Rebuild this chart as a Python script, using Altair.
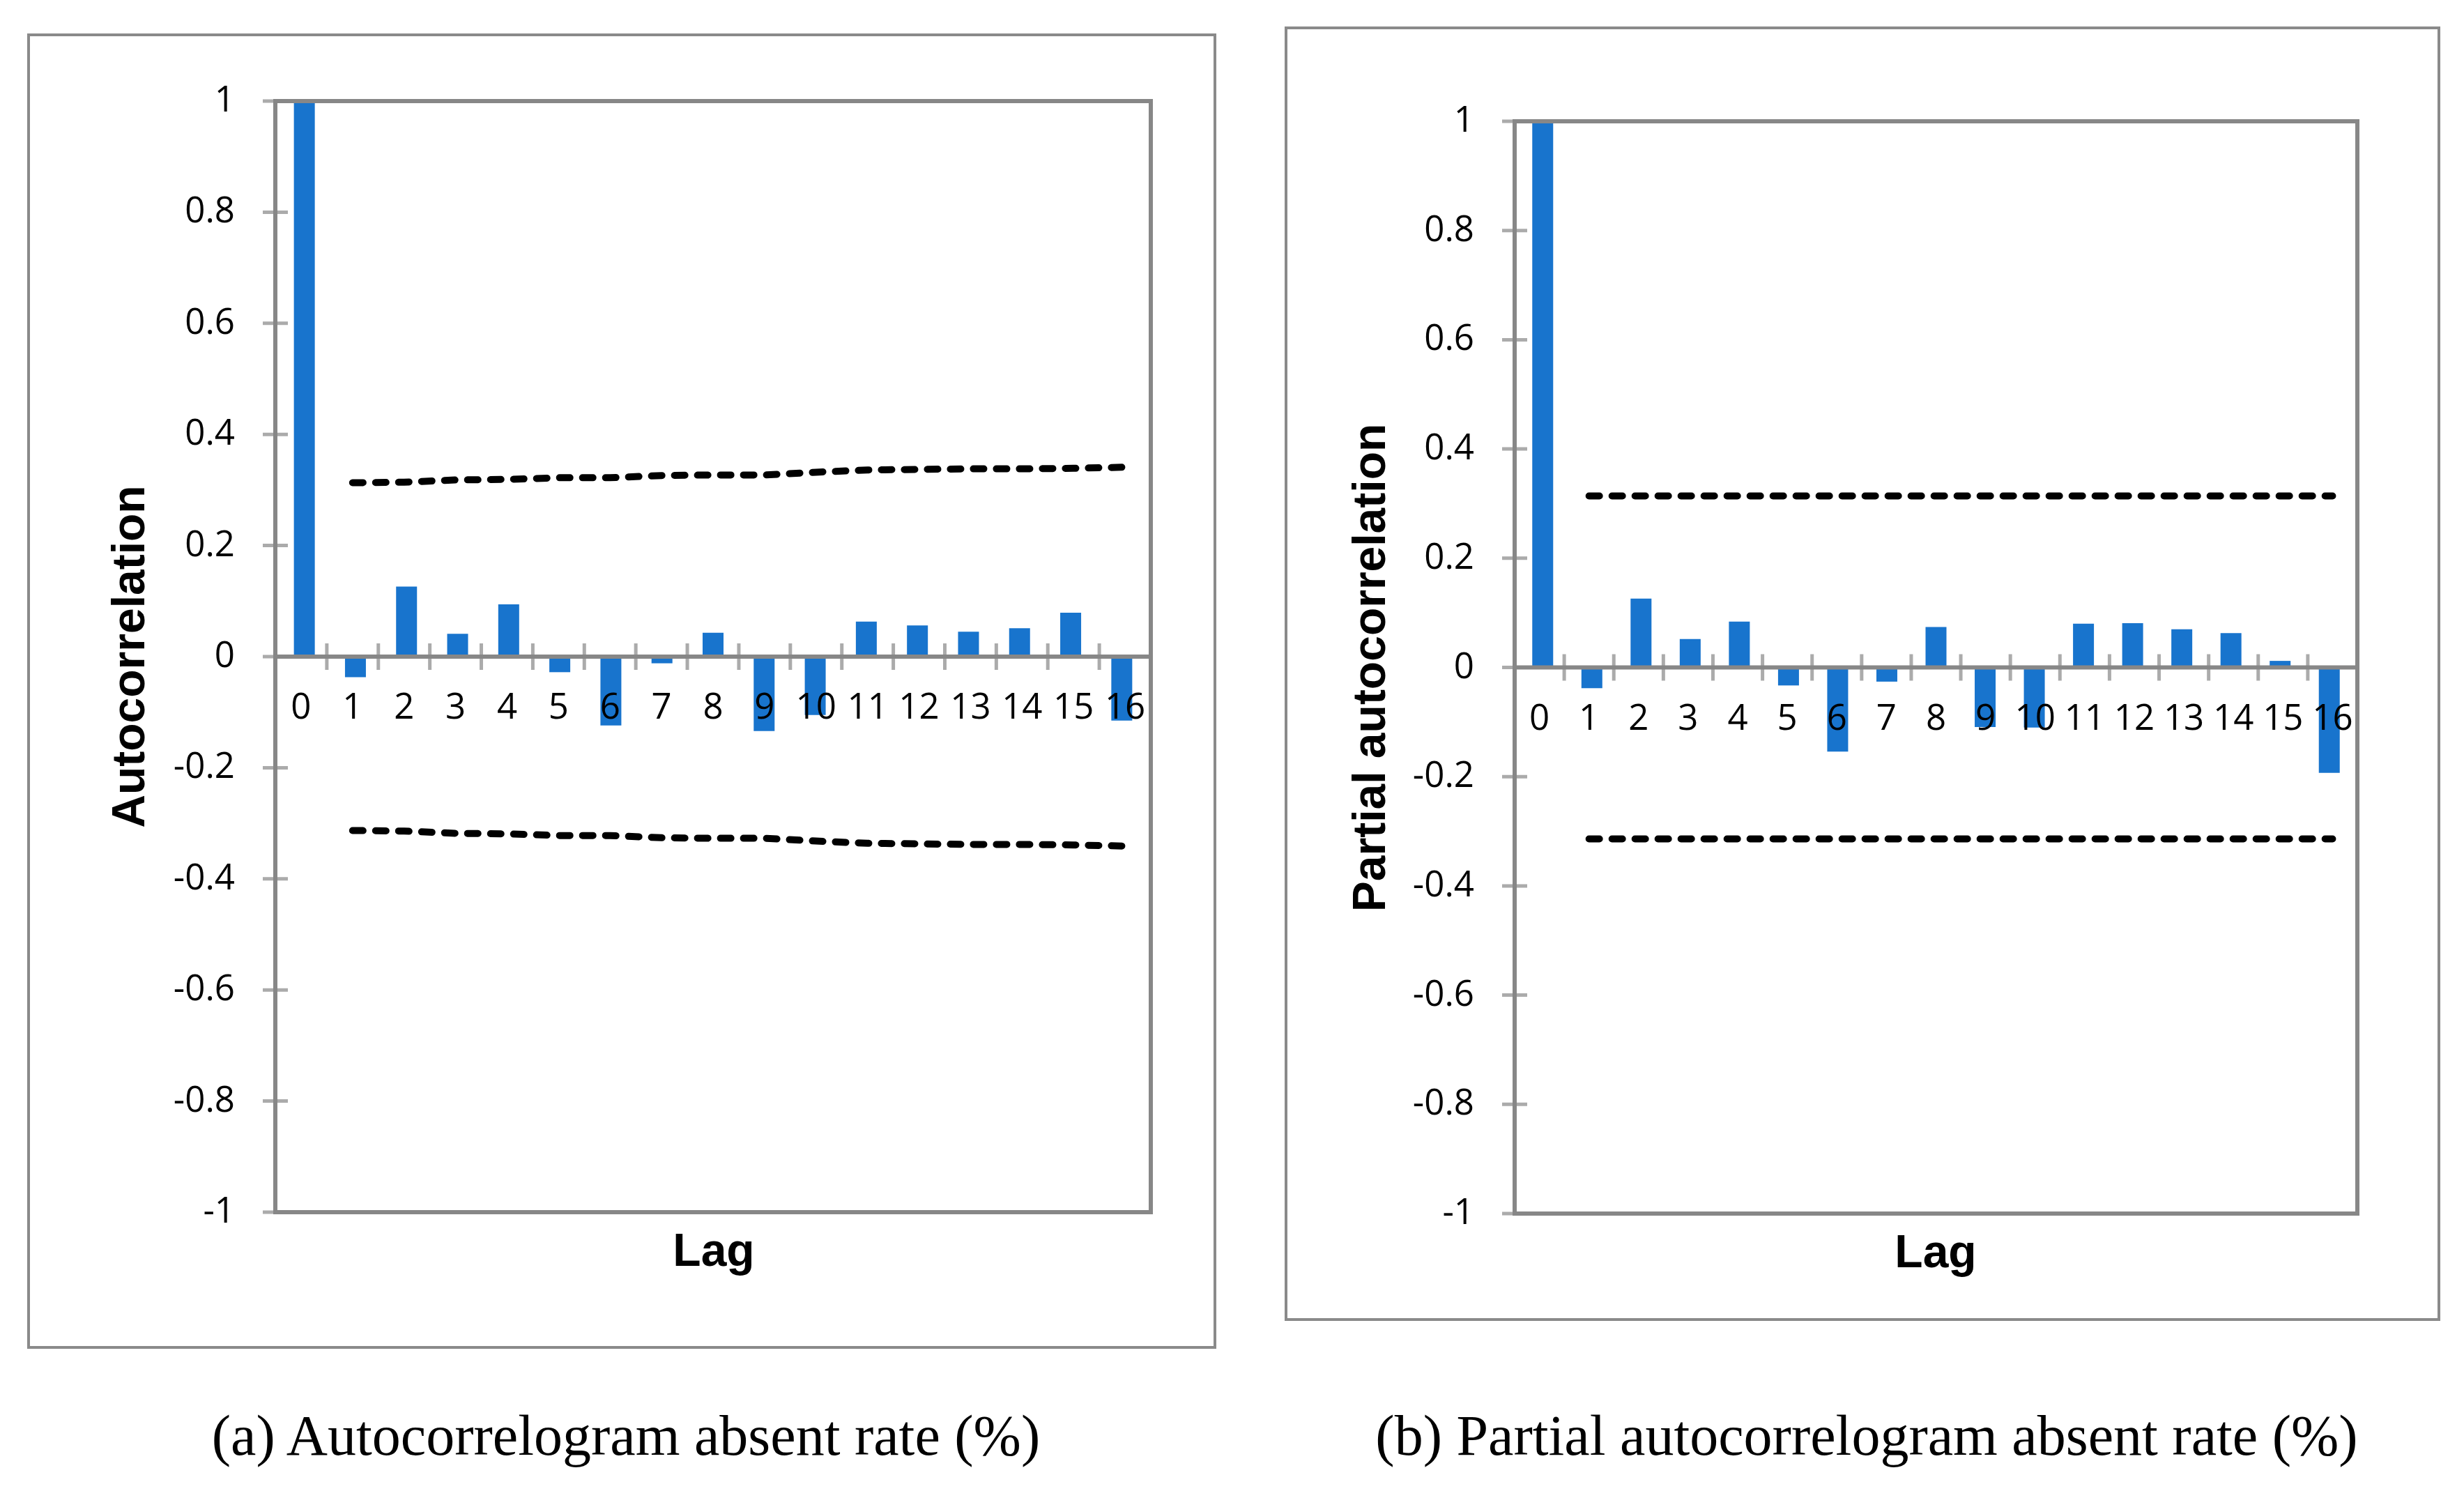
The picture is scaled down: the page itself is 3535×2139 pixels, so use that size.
import altair as alt
import pandas as pd

# ---------------- data ----------------
lags = [0, 1, 2, 3, 4, 5, 6, 7, 8, 9, 10, 11, 12, 13, 14, 15, 16]
acf = [1.0, -0.037, 0.126, 0.041, 0.094, -0.028, -0.124, -0.012, 0.043,
       -0.134, -0.105, 0.063, 0.056, 0.045, 0.051, 0.079, -0.115]
pacf = [1.0, -0.038, 0.126, 0.052, 0.084, -0.033, -0.154, -0.026, 0.074,
        -0.109, -0.110, 0.080, 0.081, 0.070, 0.063, 0.012, -0.193]

band_lags = [1, 2, 3, 4, 5, 6, 7, 8, 9, 10, 11, 12, 13, 14, 15, 16]
acf_upper = [0.313, 0.314, 0.318, 0.319, 0.322, 0.322, 0.326, 0.327,
             0.327, 0.332, 0.336, 0.337, 0.338, 0.338, 0.339, 0.341]
acf_lower = [-0.313, -0.314, -0.318, -0.319, -0.322, -0.322, -0.326, -0.327,
             -0.327, -0.332, -0.336, -0.337, -0.338, -0.338, -0.339, -0.341]
pacf_upper = [0.314, 0.314, 0.314, 0.314, 0.314, 0.314, 0.314, 0.314,
              0.314, 0.314, 0.314, 0.314, 0.314, 0.314, 0.314, 0.314]
pacf_lower = [-0.314, -0.314, -0.314, -0.314, -0.314, -0.314, -0.314, -0.314,
              -0.314, -0.314, -0.314, -0.314, -0.314, -0.314, -0.314, -0.314]

y_ticks = [1, 0.8, 0.6, 0.4, 0.2, 0, -0.2, -0.4, -0.6, -0.8, -1]
y_tick_labels = ["1", "0.8", "0.6", "0.4", "0.2", "0", "-0.2", "-0.4", "-0.6", "-0.8", "-1"]
x_tick_labels = ["0", "1", "2", "3", "4", "5", "6", "7", "8", "9", "10",
                 "11", "12", "13", "14", "15", "16"]
x_boundaries = [0.5, 1.5, 2.5, 3.5, 4.5, 5.5, 6.5, 7.5, 8.5, 9.5, 10.5,
                11.5, 12.5, 13.5, 14.5, 15.5]

BLUE = "#1874CD"
GREY = "#878787"
TICK_FONT = "Open Sans"
TITLE_FONT = "Liberation Sans"
CAP_FONT = "Liberation Serif"


def panel(vals, upper, lower, xr, yr, ytitle, ytitle_xy, lag_xy, caption, cap_xy, frame):
    xs = alt.Scale(domain=[-0.5, 16.5], range=xr, nice=False, zero=False)
    ys = alt.Scale(domain=[-1, 1], range=yr, nice=False, zero=False)
    one = pd.DataFrame({"a": [0]})
    bars_df = pd.DataFrame({"lag": lags, "v": vals, "lab": x_tick_labels})
    band_df = pd.DataFrame({"lag": band_lags, "up": upper, "lo": lower})
    yt_df = pd.DataFrame({"t": y_ticks, "lab": y_tick_labels})
    xb_df = pd.DataFrame({"b": x_boundaries})

    layers = []
    # outer frame
    layers.append(
        alt.Chart(one).mark_rect(fillOpacity=0, stroke="#8a8a8a", strokeWidth=4).encode(
            x=alt.value(frame[0]), x2=alt.value(frame[1]),
            y=alt.value(frame[2]), y2=alt.value(frame[3]))
    )
    # bars
    layers.append(
        alt.Chart(bars_df).mark_bar(size=30, color=BLUE, orient="vertical").encode(
            x=alt.X("lag:Q", scale=xs, axis=None),
            y=alt.Y("v:Q", scale=ys, axis=None),
            y2=alt.Y2(datum=0))
    )
    # confidence bands
    for col in ["up", "lo"]:
        layers.append(
            alt.Chart(band_df).mark_line(color="black", strokeWidth=10, strokeDash=[15, 18],
                                         strokeCap="round").encode(
                x=alt.X("lag:Q", scale=xs, axis=None),
                y=alt.Y(f"{col}:Q", scale=ys, axis=None))
        )
    # zero line
    layers.append(
        alt.Chart(one).mark_rule(color=GREY, strokeWidth=6).encode(
            x=alt.X(datum=-0.5, scale=xs, axis=None), x2=alt.X2(datum=16.5),
            y=alt.Y(datum=0, scale=ys, axis=None))
    )
    # category ticks crossing the zero line
    layers.append(
        alt.Chart(xb_df).mark_tick(orient="vertical", size=38, thickness=5, color=GREY).encode(
            x=alt.X("b:Q", scale=xs, axis=None),
            y=alt.Y(datum=0, scale=ys, axis=None))
    )
    # plot-area border
    layers.append(
        alt.Chart(one).mark_rect(fillOpacity=0, stroke=GREY, strokeWidth=6).encode(
            x=alt.X(datum=-0.5, scale=xs, axis=None), x2=alt.X2(datum=16.5),
            y=alt.Y(datum=-1, scale=ys, axis=None), y2=alt.Y2(datum=1))
    )
    # y ticks crossing the axis
    layers.append(
        alt.Chart(yt_df).mark_tick(orient="horizontal", size=36, thickness=5, color=GREY).encode(
            x=alt.X(datum=-0.5, scale=xs, axis=None),
            y=alt.Y("t:Q", scale=ys, axis=None))
    )
    # y tick labels
    layers.append(
        alt.Chart(yt_df).mark_text(align="right", baseline="middle", dx=-58,
                                   fontSize=51, font=TICK_FONT, color="black").encode(
            x=alt.X(datum=-0.5, scale=xs, axis=None),
            y=alt.Y("t:Q", scale=ys, axis=None),
            text="lab:N")
    )
    # x tick labels
    layers.append(
        alt.Chart(bars_df).mark_text(align="center", baseline="middle", dy=74,
                                     fontSize=51, font=TICK_FONT, color="black").encode(
            x=alt.X("lag:Q", scale=xs, axis=None),
            y=alt.Y(datum=0, scale=ys, axis=None),
            text="lab:N")
    )
    # y title
    layers.append(
        alt.Chart(one).mark_text(text=ytitle, angle=270, align="center", baseline="middle",
                                 fontSize=66, font=TITLE_FONT, fontWeight="bold",
                                 color="black").encode(
            x=alt.value(ytitle_xy[0]), y=alt.value(ytitle_xy[1]))
    )
    # x title
    layers.append(
        alt.Chart(one).mark_text(text="Lag", align="center", baseline="alphabetic",
                                 fontSize=66, font=TITLE_FONT, fontWeight="bold",
                                 color="black").encode(
            x=alt.value(lag_xy[0]), y=alt.value(lag_xy[1]))
    )
    # caption
    layers.append(
        alt.Chart(one).mark_text(text=caption, align="center", baseline="alphabetic",
                                 fontSize=82, font=CAP_FONT, color="black").encode(
            x=alt.value(cap_xy[0]), y=alt.value(cap_xy[1]))
    )
    return layers


left = panel(acf, acf_upper, acf_lower, [387, 1643], [1731, 137], "Autocorrelation",
             (179, 934), (1016, 1808), "(a) Autocorrelogram absent rate (%)", (890, 2079),
             (33, 1735, 42, 1925))
right = panel(pacf, pacf_upper, pacf_lower, [2165, 3374], [1733, 166], "Partial autocorrelation",
              (1959, 950), (2769, 1810), "(b) Partial autocorrelogram absent rate (%)", (2670, 2079),
              (1837, 3491, 32, 1885))

chart = alt.layer(*(left + right)).resolve_scale(
    x="independent", y="independent"
).properties(
    width=3515, height=2119, autosize=alt.AutoSizeParams(type="none"), padding=0
).configure_view(stroke=None)

chart.save("out.html", embed_options={"renderer": "svg", "actions": False})
